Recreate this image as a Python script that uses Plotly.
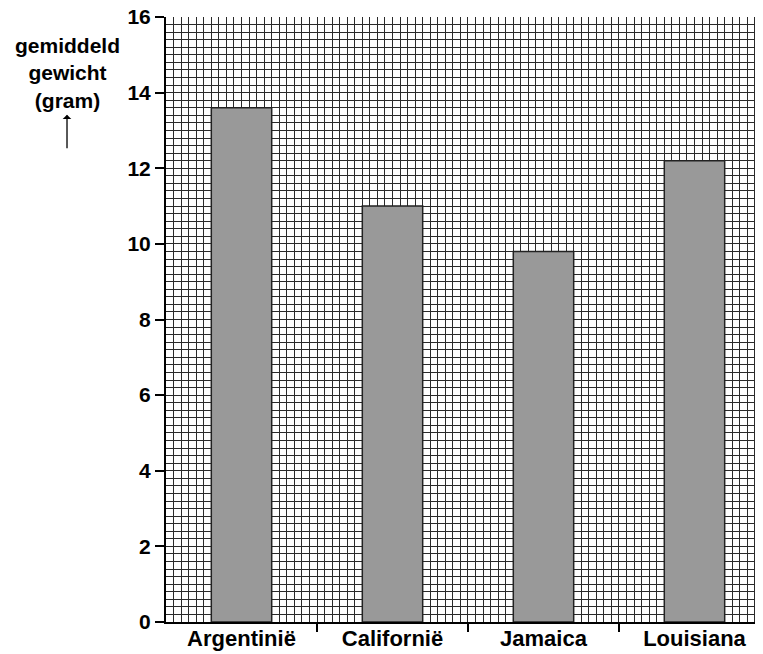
import plotly.graph_objects as go

categories = ["Argentinië", "Californië", "Jamaica", "Louisiana"]
values = [13.6, 11.0, 9.8, 12.2]
y_ticks = [0, 2, 4, 6, 8, 10, 12, 14, 16]
y_title_lines = ["gemiddeld", "gewicht", "(gram)"]

positions = list(range(len(categories)))
boundaries = [p + 0.5 for p in positions[:-1]]

FONT = "Liberation Sans, Arial, sans-serif"
GRID = "#2a2a2a"

fig = go.Figure()
fig.add_trace(go.Bar(
    x=positions, y=values, width=0.4,
    marker=dict(color="#999999", line=dict(color="#222222", width=1.5)),
    xaxis="x", yaxis="y",
))
fig.add_trace(go.Scatter(x=[positions[0]], y=[0], mode="markers",
                         marker=dict(opacity=0), xaxis="x2", yaxis="y",
                         hoverinfo="skip"))

xr = [-0.5, 3.414]
fig.update_layout(
    width=755, height=646,
    margin=dict(l=158, r=6, t=9, b=32, autoexpand=False),
    paper_bgcolor="white", plot_bgcolor="white",
    showlegend=False,
    font=dict(family=FONT, color="black"),
    xaxis=dict(
        range=xr, tickvals=positions, ticktext=categories,
        tickfont=dict(size=22, family=FONT, weight="bold"), ticks="",
        ticklabeloverflow="allow", automargin=False, ticklabelstandoff=-4,
        showgrid=True, gridcolor=GRID, gridwidth=1,
        minor=dict(dtick=0.05, tick0=-0.5, showgrid=True, gridcolor=GRID, gridwidth=1),
        showline=True, linecolor="black", linewidth=2,
        zeroline=False, fixedrange=True,
    ),
    xaxis2=dict(
        range=xr, overlaying="x", side="bottom", anchor="y",
        tickvals=boundaries, showticklabels=False, automargin=False,
        ticks="outside", ticklen=9, tickwidth=2, tickcolor="black",
        showgrid=False, zeroline=False, showline=False,
    ),
    yaxis=dict(
        range=[0, 16], tickvals=y_ticks,
        tickfont=dict(size=21, family=FONT, weight="bold"),
        ticklabeloverflow="allow", automargin=False,
        ticks="outside", ticklen=9, tickwidth=2, tickcolor="black",
        showgrid=True, gridcolor=GRID, gridwidth=1,
        minor=dict(dtick=0.2, tick0=0, showgrid=True, gridcolor=GRID, gridwidth=1),
        showline=True, linecolor="black", linewidth=2,
        zeroline=False,
    ),
)

fig.add_annotation(
    text="<br>".join(y_title_lines),
    xref="paper", yref="paper", x=-0.1675, y=0.976,
    xanchor="center", yanchor="top", showarrow=False,
    font=dict(size=21, family=FONT, weight="bold"), align="center",
)
fig.add_annotation(
    xref="paper", yref="paper", x=-0.1675, y=0.8386,
    ax=0, ay=35, axref="pixel", ayref="pixel",
    showarrow=True, arrowhead=1, arrowsize=1.1, arrowwidth=1.3, arrowcolor="black",
    text="",
)

fig.write_html("out.html")
